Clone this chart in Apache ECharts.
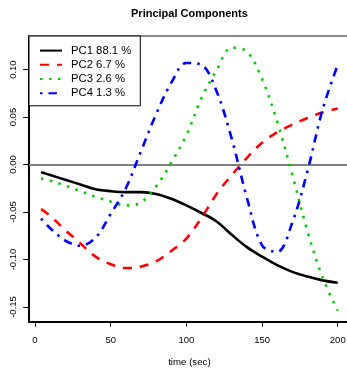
<!DOCTYPE html>
<html>
<head>
<meta charset="utf-8">
<script src="https://cdn.jsdelivr.net/npm/echarts@6/dist/echarts.min.js"></script>
<style>
html,body{margin:0;padding:0;background:#fff;}
#chart{width:347px;height:368px;}
</style>
</head>
<body>
<div id="chart"></div>
<script>
// ---- data ----
const times = [4, 10, 20, 30, 40, 50, 60, 70, 80, 90, 100, 110, 120, 130, 140, 150, 160, 170, 180, 190, 200];
const pc1 = [-0.008, -0.011, -0.016, -0.021, -0.026, -0.028, -0.029, -0.029, -0.031, -0.036, -0.043, -0.051, -0.060, -0.074, -0.087, -0.097, -0.106, -0.113, -0.118, -0.122, -0.1245];
const pc2 = [-0.047, -0.054, -0.069, -0.083, -0.097, -0.105, -0.109, -0.1075, -0.102, -0.091, -0.078, -0.056, -0.031, -0.011, 0.007, 0.023, 0.034, 0.042, 0.049, 0.055, 0.059];
const pc3 = [-0.0145, -0.017, -0.022, -0.028, -0.034, -0.039, -0.043, -0.040, -0.023, 0.002, 0.031, 0.070, 0.0995, 0.123, 0.119, 0.090, 0.045, -0.011, -0.070, -0.119, -0.154];
const pc4 = [-0.057, -0.067, -0.080, -0.0855, -0.077, -0.052, -0.025, 0.014, 0.053, 0.086, 0.107, 0.105, 0.077, 0.027, -0.035, -0.085, -0.092, -0.061, -0.007, 0.058, 0.105];
const seriesNames = ['PC1', 'PC2', 'PC3', 'PC4'];
const variancePct = ['88.1', '6.7', '2.6', '1.3'];
const xTicks = [0, 50, 100, 150, 200];
const yTicks = [-0.15, -0.10, -0.05, 0.00, 0.05, 0.10];
const titleText = 'Principal Components';
const xAxisTitle = 'time (sec)';

const FONT = "'Liberation Sans', Arial, Helvetica, sans-serif";
const pair = (ys) => times.map((t, i) => [t, ys[i]]);
const allY = [pc1, pc2, pc3, pc4];
const colors = ['#000000', '#ff0000', '#00cd00', '#0000ff'];
const dashes = ['solid', [9, 8], [2.5, 6.5], [2.5, 6, 8.5, 6]];

const chart = echarts.init(document.getElementById('chart'), null, {renderer: 'canvas'});
const series = seriesNames.map((name, i) => ({
  name: name,
  type: 'line',
  data: pair(allY[i]),
  smooth: 0.35,
  symbol: 'none',
  z: 3 + i,
  lineStyle: {color: colors[i], width: 2.6, type: dashes[i], cap: 'butt'},
  itemStyle: {color: colors[i]},
  markLine: i === 0 ? {
    silent: true,
    symbol: ['none', 'none'],
    label: {show: false},
    lineStyle: {color: '#808080', width: 2, type: 'solid'},
    data: [{yAxis: 0}]
  } : undefined
}));

chart.setOption({
  animation: false,
  backgroundColor: '#ffffff',
  title: {
    text: titleText,
    left: 189.4,
    top: 8,
    padding: 0,
    textAlign: 'center',
    textStyle: {fontSize: 11, fontWeight: 'bold', color: '#000', fontFamily: FONT}
  },
  legend: {
    orient: 'vertical',
    left: 29,
    top: 36,
    itemWidth: 22,
    itemHeight: 14,
    itemGap: 3,
    padding: [9, 9, 7, 10],
    borderColor: '#000',
    borderWidth: 1,
    backgroundColor: '#fff',
    data: seriesNames,
    itemStyle: {opacity: 0},
    formatter: (n) => n + ' ' + variancePct[seriesNames.indexOf(n)] + ' %',
    textStyle: {fontSize: 11.3, color: '#000', fontFamily: FONT, padding: [0, 0, 0, 4]}
  },
  grid: {
    left: 29.2, top: 35.7, width: 320.4, height: 286, show: false,
    containLabel: false, outerBoundsMode: 'none'
  },
  xAxis: [{
    type: 'value',
    min: -3.84, max: 207.84,
    name: xAxisTitle,
    nameLocation: 'middle',
    nameGap: 36,
    nameTextStyle: {fontSize: 9.7, color: '#000', fontFamily: FONT},
    axisLine: {show: true, onZero: false, lineStyle: {color: '#000', width: 2}},
    axisTick: {show: true, customValues: xTicks, length: 5, lineStyle: {color: '#000', width: 1}},
    axisLabel: {customValues: xTicks, margin: 14, fontSize: 9.5, color: '#000', fontFamily: FONT},
    splitLine: {show: false}
  }, {
    type: 'value',
    position: 'top',
    min: -3.84, max: 207.84,
    axisLine: {show: true, onZero: false, lineStyle: {color: '#888', width: 2}},
    axisTick: {show: false},
    axisLabel: {show: false},
    splitLine: {show: false}
  }],
  yAxis: {
    type: 'value',
    min: -0.1655, max: 0.1357,
    axisLine: {show: true, onZero: false, lineStyle: {color: '#000', width: 2}},
    axisTick: {show: true, customValues: yTicks, length: 6, lineStyle: {color: '#000', width: 1}},
    axisLabel: {customValues: yTicks, rotate: 90, margin: 11, fontSize: 9.5, color: '#000', fontFamily: FONT,
      formatter: (v) => v.toFixed(2)},
    splitLine: {show: false}
  },
  series: series
});
</script>
</body>
</html>
